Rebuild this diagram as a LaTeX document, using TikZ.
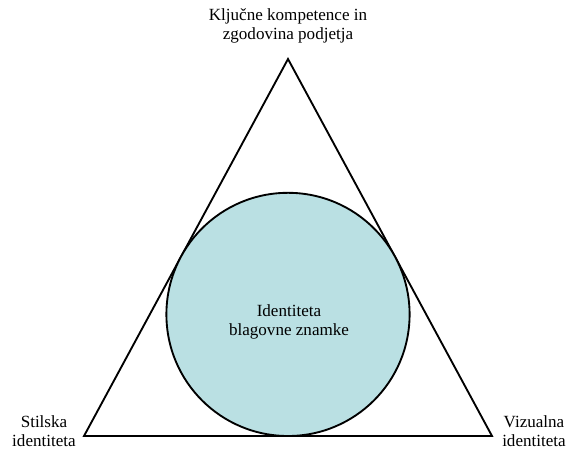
\documentclass[tikz,border=0pt]{standalone}
\usepackage{fontspec}
\setmainfont{Liberation Serif}
\definecolor{discfill}{HTML}{BAE0E3}
\begin{document}
\begin{tikzpicture}[x=0.75pt,y=-0.75pt,
  lbl/.style={align=center,font=\fontsize{12.8}{14.5}\selectfont,inner sep=0pt},
  edge/.style={draw=black,line width=1.4pt}]
\useasboundingbox (0,0) rectangle (568,451);
% triangle corners
\coordinate (top) at (288,59);
\coordinate (bl) at (84,436);
\coordinate (br) at (492,436);
\draw[edge,line join=miter] (top) -- (bl) -- (br) -- cycle;
% inscribed disc
\node[circle,draw=black,line width=1.4pt,fill=discfill,minimum size=243.2*0.75pt,inner sep=0pt] (disc) at (288,314.4) {};
\node[lbl] (core) at (289,322) {Identiteta\\blagovne znamke};
\node[lbl] (ltop) at (288,26) {Ključne kompetence in\\zgodovina podjetja};
\node[lbl] (lleft) at (44,431) {Stilska\\identiteta};
\node[lbl] (lright) at (534,431) {Vizualna\\identiteta};
\end{tikzpicture}
\end{document}
